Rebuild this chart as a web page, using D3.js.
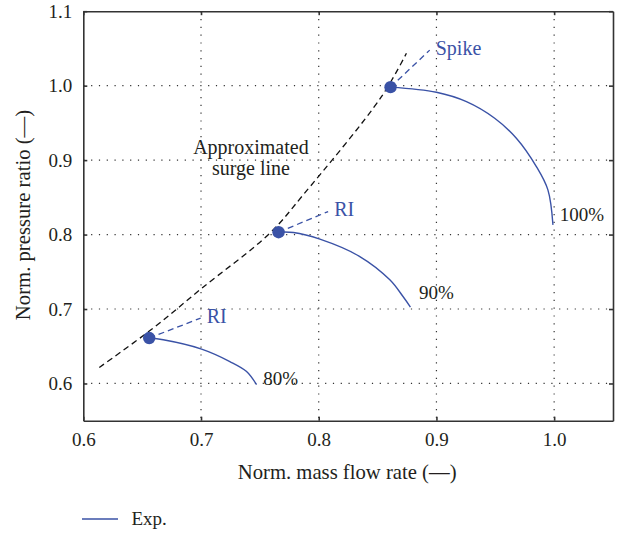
<html>
<head>
  <script src="https://d3js.org/d3.v7.min.js"></script>
  <style>
  body { margin: 0; background: #fff; }
  .grid line { stroke: #333; stroke-width: 1.2; stroke-dasharray: 1.2,6.6; }
  .axis path, .axis line { stroke: #333; stroke-width: 1.6; }
  </style>
</head>
<body>
  <svg id="chart" width="619" height="533"></svg>
  <script>

var xTicks = [0.6, 0.7, 0.8, 0.9, 1.0];
var yTicks = [0.6, 0.7, 0.8, 0.9, 1.0, 1.1];
var speeds = ["80%", "90%", "100%"];

// experimental speed lines, first point = instability onset
var exp80 = [[0.656, 0.661], [0.6679, 0.6587], [0.7005, 0.6462], [0.7245, 0.6295], [0.7387, 0.6161], [0.7472, 0.5983]];
var exp90 = [[0.7659, 0.8032], [0.7785, 0.8027], [0.801, 0.7938], [0.8349, 0.7705], [0.8604, 0.7392], [0.8716, 0.7168], [0.8779, 0.7026]];
var exp100 = [[0.861, 0.998], [0.9, 0.9911], [0.9255, 0.9785], [0.9495, 0.9562], [0.9679, 0.9294], [0.9849, 0.8913], [0.9947, 0.860], [0.999, 0.813]];

// approximated surge line
var surge = [[0.6136, 0.6215], [0.6594, 0.6744], [0.7005, 0.7277], [0.7585, 0.8019], [0.7868, 0.8533], [0.8533, 0.9852], [0.8745, 1.0435]];

// stall type markers (line end points)
var stallTypes = ["RI", "RI", "Spike"];
var stallEnds = [[0.6997, 0.6878], [0.808, 0.8309], [0.8943, 1.0477]];

var blue = "#3a52a6", ink = "#231f20", serif = "'Liberation Serif', 'Times New Roman', serif";

var svg = d3.select("#chart"),
  margin = {left: 83.3, right: 6, top: 11.2, bottom: 112.3},
  width = +svg.attr("width") - margin.left - margin.right,
  height = +svg.attr("height") - margin.top - margin.bottom;

svg.append("rect").attr("width", 619).attr("height", 533).attr("fill", "#fff");

var x = d3.scaleLinear().domain([0.6, 1.05]).range([0, width]);
var y = d3.scaleLinear().domain([0.55, 1.1]).range([height, 0]);

var g = svg.append("g").attr("transform", "translate(" + margin.left + "," + margin.top + ")");

// dotted grid
var grid = g.append("g").attr("class", "grid");
grid.selectAll(".vx").data(xTicks.filter(function(d) { return d > 0.6; }))
  .enter().append("line")
  .attr("x1", function(d) { return x(d); }).attr("x2", function(d) { return x(d); })
  .attr("y1", 0).attr("y2", height);
grid.selectAll(".hy").data(yTicks.filter(function(d) { return d < 1.1; }))
  .enter().append("line")
  .attr("y1", function(d) { return y(d); }).attr("y2", function(d) { return y(d); })
  .attr("x1", 0).attr("x2", width);

// frame with inward ticks
function styleAxis(sel) {
  sel.attr("font-family", serif).attr("font-size", 19);
  sel.selectAll("text").attr("fill", ink);
}
g.append("g").attr("class", "axis")
  .attr("transform", "translate(0," + height + ")")
  .call(d3.axisBottom(x).tickValues(xTicks).tickFormat(d3.format(".1f")).tickSizeInner(-4).tickSizeOuter(0).tickPadding(12))
  .call(styleAxis);
g.append("g").attr("class", "axis")
  .call(d3.axisLeft(y).tickValues(yTicks).tickFormat(d3.format(".1f")).tickSizeInner(-4).tickSizeOuter(0).tickPadding(11))
  .call(styleAxis);
g.append("g").attr("class", "axis")
  .call(d3.axisTop(x).tickValues(xTicks).tickFormat("").tickSizeInner(-4).tickSizeOuter(0));
g.append("g").attr("class", "axis")
  .attr("transform", "translate(" + width + ",0)")
  .call(d3.axisRight(y).tickValues(yTicks).tickFormat("").tickSizeInner(-4).tickSizeOuter(0));

var smooth = d3.line().curve(d3.curveCatmullRom.alpha(0.5))
  .x(function(d) { return x(d[0]); }).y(function(d) { return y(d[1]); });
var straight = d3.line()
  .x(function(d) { return x(d[0]); }).y(function(d) { return y(d[1]); });

// surge line
g.append("path")
  .datum(surge)
  .attr("d", smooth)
  .attr("fill", "none")
  .attr("stroke", "#111")
  .attr("stroke-width", 1.3)
  .attr("stroke-dasharray", "6,4");

g.append("text")
  .attr("x", x(0.7424)).attr("y", y(0.9083))
  .attr("text-anchor", "middle")
  .attr("font-family", serif).attr("font-size", 20).attr("fill", ink)
  .text("Approximated");
g.append("text")
  .attr("x", x(0.7424)).attr("y", y(0.880))
  .attr("text-anchor", "middle")
  .attr("font-family", serif).attr("font-size", 20).attr("fill", ink)
  .text("surge line");

var curves = [exp80, exp90, exp100];
var labelOffsets = [[6.6, 0], [8.6, -8], [6.7, -4]];

curves.forEach(function(c, i) {
  // stall type dashed marker
  g.append("path")
    .datum([c[0], stallEnds[i]])
    .attr("d", straight)
    .attr("fill", "none")
    .attr("stroke", blue)
    .attr("stroke-width", 1.3)
    .attr("stroke-dasharray", "6,4");

  g.append("text")
    .attr("x", x(stallEnds[i][0]) + 6)
    .attr("y", y(stallEnds[i][1]) + 4.5)
    .attr("font-family", serif).attr("font-size", 20).attr("fill", blue)
    .text(stallTypes[i]);

  g.append("path")
    .datum(c)
    .attr("d", smooth)
    .attr("fill", "none")
    .attr("stroke", blue)
    .attr("stroke-width", 1.4);

  g.append("circle")
    .attr("cx", x(c[0][0])).attr("cy", y(c[0][1]))
    .attr("r", 6.2)
    .attr("fill", blue);

  var last = c[c.length - 1];
  g.append("text")
    .attr("x", x(last[0]) + labelOffsets[i][0])
    .attr("y", y(last[1]) + labelOffsets[i][1])
    .attr("font-family", serif).attr("font-size", 19).attr("fill", ink)
    .text(speeds[i]);
});

// axis titles
svg.append("text")
  .attr("x", margin.left + width / 2 - 1).attr("y", 479)
  .attr("text-anchor", "middle")
  .attr("font-family", serif).attr("font-size", 20.7).attr("fill", ink)
  .text("Norm. mass flow rate (\u2014)");

svg.append("text")
  .attr("transform", "translate(30,215) rotate(-90)")
  .attr("text-anchor", "middle")
  .attr("font-family", serif).attr("font-size", 20.7).attr("fill", ink)
  .text("Norm. pressure ratio (\u2014)");

// legend
svg.append("line")
  .attr("x1", 82).attr("x2", 118).attr("y1", 519).attr("y2", 519)
  .attr("stroke", blue).attr("stroke-width", 1.4);
svg.append("text")
  .attr("x", 131.5).attr("y", 525)
  .attr("font-family", serif).attr("font-size", 19).attr("fill", ink)
  .text("Exp.");

  </script>
</body>
</html>
